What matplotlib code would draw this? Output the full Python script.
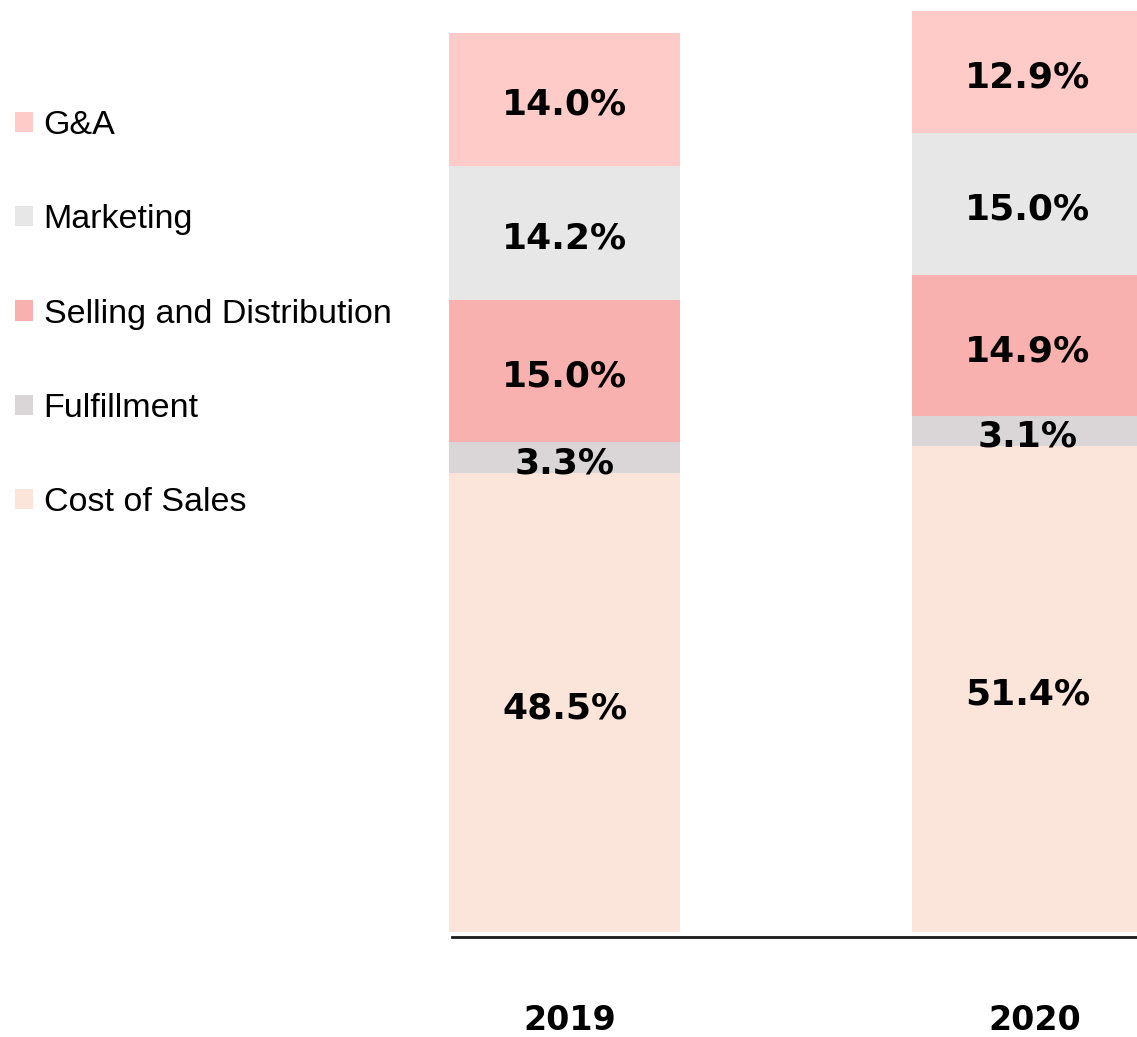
import matplotlib.pyplot as plt
from matplotlib.patches import Patch

# ── DATA ──────────────────────────────────────────────
years = ["2019", "2020"]
categories = ["Cost of Sales", "Fulfillment", "Selling and Distribution", "Marketing", "G&A"]
cost_of_sales = [48.5, 51.4]
fulfillment = [3.3, 3.1]
selling = [15.0, 14.9]
marketing = [14.2, 15.0]
g_and_a = [14.0, 12.9]

colors = ["#FBE4D9", "#DAD6D7", "#F9B1B0", "#E7E7E7", "#FECBC8"]
series = [cost_of_sales, fulfillment, selling, marketing, g_and_a]

# ── FIGURE ────────────────────────────────────────────
W, H = 1137, 1037
fig = plt.figure(figsize=(W / 100, H / 100), dpi=100)

# axes placed in pixel terms: left edge 440px, right edge 1137px
ax_bottom_px = 941.5
ax = fig.add_axes([440 / W, (H - ax_bottom_px) / H, (W - 440) / W, ax_bottom_px / H])

x = [0, 1]
bar_w = 0.499
bottoms = [0.0, 0.0]
for vals, col in zip(series, colors):
    ax.bar(x, vals, width=bar_w, bottom=bottoms, color=col, edgecolor="none", zorder=2)
    for i, v in enumerate(vals):
        ax.annotate(f"{v:.1f}%", (x[i], bottoms[i] + v / 2), xytext=(0, -4),
                    textcoords="offset points", ha="center", va="center",
                    fontsize=26, fontweight="bold", color="black", zorder=3)
    bottoms = [b + v for b, v in zip(bottoms, vals)]

ax.set_xlim(-0.269, 1.2365)
ax.set_ylim(-1.0, 98.5)

# baseline rule under the bars
ax.axhline(-0.5, xmin=12 / 697, xmax=1.0, color="#1a1a1a", linewidth=2, zorder=1)

for s in ax.spines.values():
    s.set_visible(False)
ax.set_yticks([])
ax.set_xticks([x[0] + 0.012, x[1] + 0.016])
ax.set_xticklabels(years, fontsize=24, fontweight="bold")
ax.tick_params(axis="x", length=0, pad=45)

# ── LEGEND ────────────────────────────────────────────
handles = [Patch(facecolor=c, edgecolor="none", label=l)
           for c, l in zip(colors[::-1], categories[::-1])]
fig.legend(handles=handles, loc="upper left", bbox_to_anchor=(15 / W, 1 - 110 / H),
           frameon=False, prop={"family": "Liberation Sans", "size": 24.5},
           handlelength=0.54, handleheight=0.54, handletextpad=0.3,
           labelspacing=1.86, borderpad=0, borderaxespad=0)

plt.savefig("out.png", dpi=100)
